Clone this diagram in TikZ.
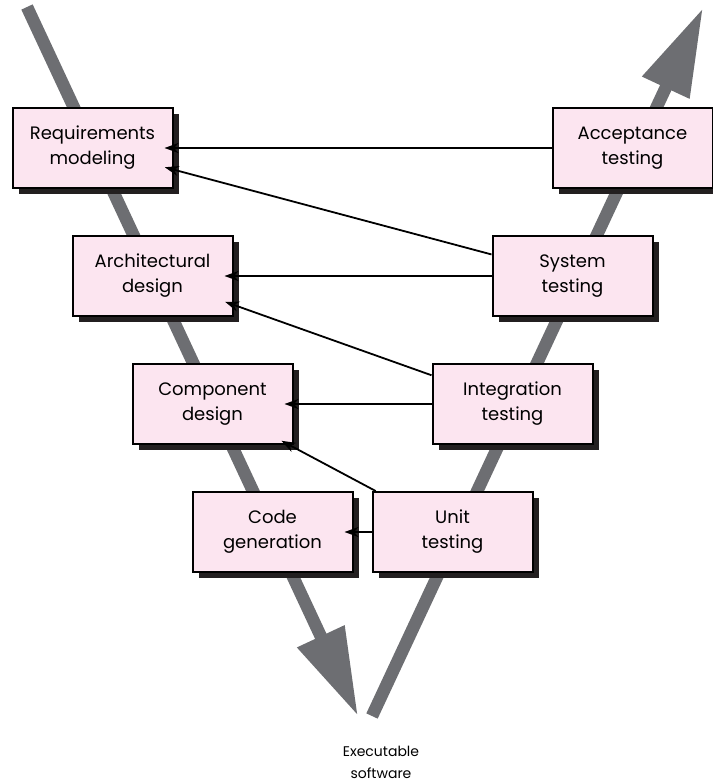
\documentclass[tikz,border=0pt]{standalone}
\usepackage{fontspec}
\setmainfont{Poppins}
\usetikzlibrary{arrows.meta,shadows}

\definecolor{phasepink}{RGB}{252,229,240}
\definecolor{vgray}{RGB}{109,110,114}
\definecolor{shadowblack}{RGB}{35,31,32}

\begin{document}
\begin{tikzpicture}[x=0.5pt,y=-0.5pt,>={Stealth[length=7pt,width=5pt]},node distance=64pt,
    phase/.style={draw,line width=1pt,fill=phasepink,minimum width=80pt,minimum height=40pt,
      align=center,font=\fontsize{9}{12.5}\selectfont,
      drop shadow={shadow xshift=3.2pt,shadow yshift=-3.2pt,fill=shadowblack,opacity=1}},
    vbar/.style={line width=6.25pt,draw=vgray,-{Triangle[length=44pt,width=24.5pt]}},
    link/.style={->,line width=0.9pt,shorten >=-4.5pt}]
    \useasboundingbox (0,0) rectangle (713,783);

    % the V
    \coordinate (downstart) at (27,7);
    \coordinate (downtip) at (358,716);
    \coordinate (upstart) at (372,716);
    \coordinate (uptip) at (703,8);
    \draw[vbar] (downstart) -- (downtip);
    \draw[vbar] (upstart) -- (uptip);

    \node[phase] (req) at (92.5,148) {Requirements\\modeling};
    \node[phase] (acc) [right of=req, node distance=270pt] {Acceptance\\testing};
    \node[phase] (arch) [below of=req, xshift=30pt] {Architectural\\design};
    \node[phase] (sys) [below of=acc, xshift=-30pt] {System\\testing};
    \node[phase] (comp) [below of=arch, xshift=30pt] {Component\\design};
    \node[phase] (int) [below of=sys, xshift=-30pt] {Integration\\testing};
    \node[phase] (code) [below of=comp, xshift=30pt] {Code\\generation};
    \node[phase] (unit) [below of=int, xshift=-30pt] {Unit\\testing};

    \node[align=center, font=\fontsize{7}{11}\selectfont] (exe) at (381,762) {Executable\\software};

    \draw[link] (acc) -- (req);
    \draw[link] (sys) -- (req);
    \draw[link] (sys) -- (arch);
    \draw[link] (int) -- (arch);
    \draw[link] (int) -- (comp);
    \draw[link] (unit) -- (comp);
    \draw[link] (unit) -- (code);
\end{tikzpicture}
\end{document}
